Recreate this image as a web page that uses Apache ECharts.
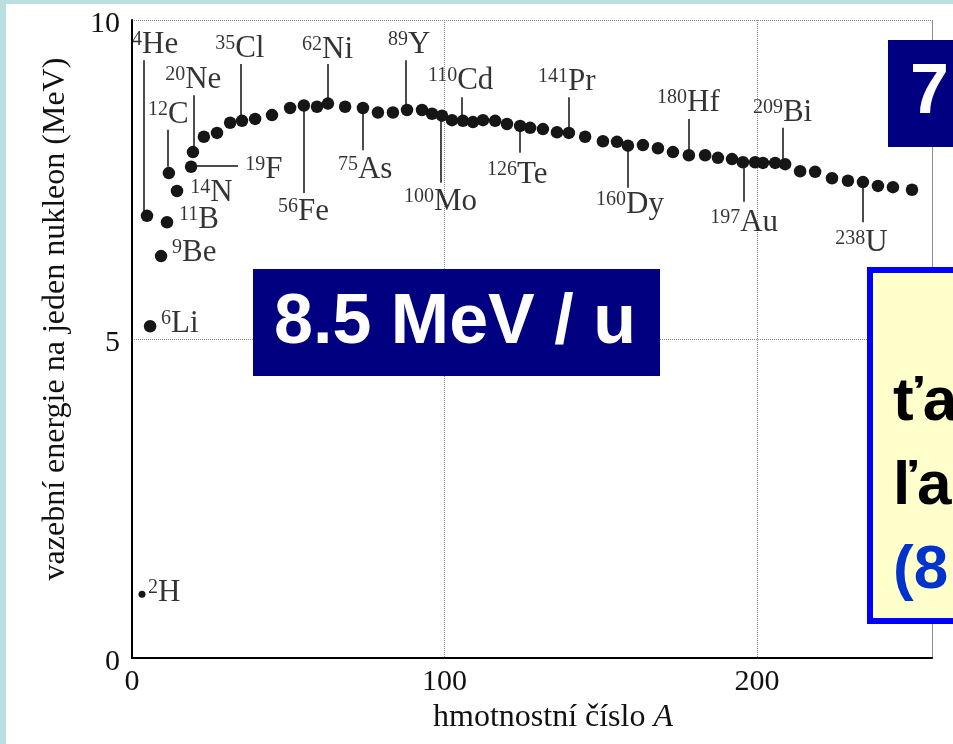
<!DOCTYPE html>
<html>
<head>
<meta charset="utf-8">
<script src="https://cdn.jsdelivr.net/npm/echarts@6/dist/echarts.min.js"></script>
<style>
html,body{margin:0;padding:0;background:#fff;}
#c{width:953px;height:744px;}
</style>
</head>
<body>
<div id="c"></div>
<script>
// ---- data ----
const massNumber = [3.2, 4.8, 5.8, 9.3, 11.2, 11.8, 14.4, 18.9, 19.5, 23.0, 27.2, 31.4, 35.2, 39.4, 44.8, 50.6, 55.0, 59.2, 62.7, 68.2, 73.9, 78.7, 83.5, 88.0, 92.8, 96.0, 99.2, 102.4, 105.9, 109.1, 112.3, 116.2, 120.0, 124.2, 127.4, 131.5, 136.0, 139.8, 145.0, 150.7, 155.2, 158.7, 163.5, 168.3, 173.1, 178.2, 183.4, 187.5, 192.0, 195.5, 199.4, 201.9, 205.8, 209.0, 213.8, 218.6, 224.0, 229.1, 233.9, 238.7, 243.5, 249.6];
const bindingEnergy = [1.00, 6.93, 5.20, 6.30, 6.83, 7.60, 7.32, 7.70, 7.93, 8.17, 8.23, 8.39, 8.42, 8.45, 8.51, 8.62, 8.66, 8.64, 8.69, 8.64, 8.62, 8.55, 8.55, 8.59, 8.59, 8.53, 8.50, 8.43, 8.42, 8.40, 8.43, 8.42, 8.37, 8.34, 8.31, 8.29, 8.24, 8.23, 8.17, 8.10, 8.09, 8.03, 8.04, 7.99, 7.93, 7.88, 7.88, 7.84, 7.82, 7.77, 7.77, 7.76, 7.76, 7.74, 7.63, 7.62, 7.52, 7.48, 7.46, 7.40, 7.38, 7.34];

const xTicks = [0, 100, 200];
const yTicks = [0, 5, 10];

// nuclide annotations (text anchor in data units)
const labelMass    = ['4','35','62','89','110','20','12','19','14','11','9','6','2','56','75','100','126','141','160','180','209','197','238'];
const labelElement = ['He','Cl','Ni','Y','Cd','Ne','C','F','N','B','Be','Li','H','Fe','As','Mo','Te','Pr','Dy','Hf','Bi','Au','U'];
const labelA = [0.0, 26.6, 54.4, 81.9, 94.7, 10.6, 5.1, 36.2, 18.6, 15.0, 12.8, 9.3, 5.1, 46.7, 65.9, 87.0, 113.6, 129.9, 148.5, 168.0, 198.7, 185.0, 225.0];
const labelE = [9.61, 9.55, 9.53, 9.61, 9.04, 9.06, 8.51, 7.65, 7.29, 6.87, 6.35, 5.24, 1.02, 6.99, 7.65, 7.15, 7.57, 9.03, 7.10, 8.70, 8.54, 6.82, 6.50];

// leader lines [A1, E1] -> [A2, E2]
const leaderFromA = [3.84, 34.9, 62.7, 87.7, 105.6, 19.8, 11.5, 20.8, 55.0, 73.9, 98.9, 124.2, 139.8, 158.7, 178.2, 208.3, 195.8, 233.9];
const leaderFromE = [9.37, 9.31, 9.31, 9.37, 8.79, 8.82, 8.28, 7.71, 8.64, 8.54, 8.48, 8.32, 8.79, 8.01, 8.45, 8.31, 7.77, 7.46];
const leaderToA   = [3.84, 34.9, 62.7, 87.7, 105.6, 19.8, 11.5, 33.9, 55.0, 73.9, 98.9, 124.2, 139.8, 158.7, 178.2, 208.3, 195.8, 233.9];
const leaderToE   = [6.97, 8.48, 8.75, 8.67, 8.48, 8.01, 7.70, 7.71, 7.29, 7.96, 7.45, 7.92, 8.31, 7.37, 7.93, 7.81, 7.15, 6.83];

// ---- chart ----
const serif = '"Liberation Serif","Times New Roman",serif';
const sans = '"Liberation Sans",Arial,sans-serif';
const chart = echarts.init(document.getElementById('c'), null, {renderer: 'canvas'});

const points = massNumber.map((a, i) => [a, bindingEnergy[i]]);
const labelData = labelA.map((a, i) => ({value: [a, labelE[i]], mass: labelMass[i], el: labelElement[i]}));
const leaderData = leaderFromA.map((a, i) => [{coord: [a, leaderFromE[i]]}, {coord: [leaderToA[i], leaderToE[i]]}]);

chart.setOption({
  animation: false,
  backgroundColor: '#ffffff',
  grid: {left: 132, right: 21, top: 20, bottom: 86},
  xAxis: {
    type: 'value', min: 0, max: 256, interval: 100,
    name: 'hmotnostní číslo {i|A}',
    nameLocation: 'middle', nameGap: 36,
    nameTextStyle: {fontFamily: serif, fontSize: 32, color: '#111', padding: [0, 0, 0, 42],
      rich: {i: {fontFamily: serif, fontSize: 32, fontStyle: 'italic', color: '#111'}}},
    axisLine: {show: true, lineStyle: {color: '#000', width: 2}},
    axisTick: {show: false},
    axisLabel: {fontFamily: serif, fontSize: 30, color: '#111', margin: 9,
      formatter: v => xTicks.indexOf(v) >= 0 ? String(v) : ''},
    splitLine: {show: true, lineStyle: {color: '#8a8a8a', type: 'dotted', width: 1}}
  },
  yAxis: [{
    type: 'value', min: 0, max: 10, interval: 5,
    name: 'vazební energie na jeden nukleon (MeV)',
    nameLocation: 'middle', nameGap: 60,
    nameTextStyle: {fontFamily: serif, fontSize: 32, color: '#111', padding: [0, 0, 0, 40]},
    axisLine: {show: true, lineStyle: {color: '#000', width: 2}},
    axisTick: {show: false},
    axisLabel: {fontFamily: serif, fontSize: 30, color: '#111', margin: 12,
      verticalAlign: 'top', lineHeight: 9,
      formatter: v => yTicks.indexOf(v) >= 0 ? String(v) : ''},
    splitLine: {show: true, lineStyle: {color: '#8a8a8a', type: 'dotted', width: 1}}
  }, {
    type: 'value', min: 0, max: 10, position: 'right',
    axisLine: {show: true, lineStyle: {color: '#8a8a8a', type: 'dotted', width: 1}},
    axisTick: {show: false}, axisLabel: {show: false}, splitLine: {show: false}
  }],
  series: [{
    type: 'scatter',
    data: points,
    symbol: 'circle',
    symbolSize: v => v[1] < 2 ? 7 : 12.5,
    itemStyle: {color: '#161616', opacity: 1},
    z: 5
  }, {
    type: 'scatter',
    data: labelData,
    symbolSize: 0,
    silent: true,
    clip: false,
    z: 6,
    label: {
      show: true, position: 'right', distance: 0,
      formatter: p => '{s|' + p.data.mass + '}{e|' + p.data.el + '}',
      rich: {
        s: {fontFamily: serif, fontSize: 20, color: '#000', lineHeight: 14, verticalAlign: 'top'},
        e: {fontFamily: serif, fontSize: 31, color: '#000', lineHeight: 30}
      }
    },
    markLine: {
      silent: true, symbol: 'none', animation: false,
      label: {show: false},
      emphasis: {disabled: true},
      lineStyle: {color: '#111', width: 1.5, type: 'solid'},
      data: leaderData
    }
  }],
  graphic: [
    {type: 'rect', z: 100, shape: {x: 0, y: 0, width: 953, height: 4}, style: {fill: '#b9dfe1'}},
    {type: 'rect', z: 100, shape: {x: 0, y: 0, width: 6, height: 744}, style: {fill: '#b9dfe1'}},
    {type: 'rect', z: 100, shape: {x: 253, y: 269, width: 407, height: 107}, style: {fill: '#000080'}},
    {type: 'text', z: 101, style: {text: '8.5 MeV / u', x: 455, y: 324, fill: '#fff',
      fontFamily: sans, fontWeight: 'bold', fontSize: 70, align: 'center', verticalAlign: 'middle'}},
    {type: 'rect', z: 100, shape: {x: 888, y: 40, width: 80, height: 107}, style: {fill: '#000080'}},
    {type: 'text', z: 101, style: {text: '7', x: 910, y: 94, fill: '#fff',
      fontFamily: sans, fontWeight: 'bold', fontSize: 70, align: 'left', verticalAlign: 'middle'}},
    {type: 'rect', z: 100, shape: {x: 870, y: 270, width: 100, height: 351},
      style: {fill: '#ffffcc', stroke: '#0000ff', lineWidth: 6}},
    {type: 'text', z: 101, style: {text: 'ťa', x: 893, y: 403, fill: '#000',
      fontFamily: sans, fontWeight: 'bold', fontSize: 62, align: 'left', verticalAlign: 'middle'}},
    {type: 'text', z: 101, style: {text: 'ľa', x: 893, y: 487, fill: '#000',
      fontFamily: sans, fontWeight: 'bold', fontSize: 62, align: 'left', verticalAlign: 'middle'}},
    {type: 'text', z: 101, style: {text: '(8', x: 893, y: 571, fill: '#0033cc',
      fontFamily: sans, fontWeight: 'bold', fontSize: 62, align: 'left', verticalAlign: 'middle'}}
  ]
});
</script>
</body>
</html>
